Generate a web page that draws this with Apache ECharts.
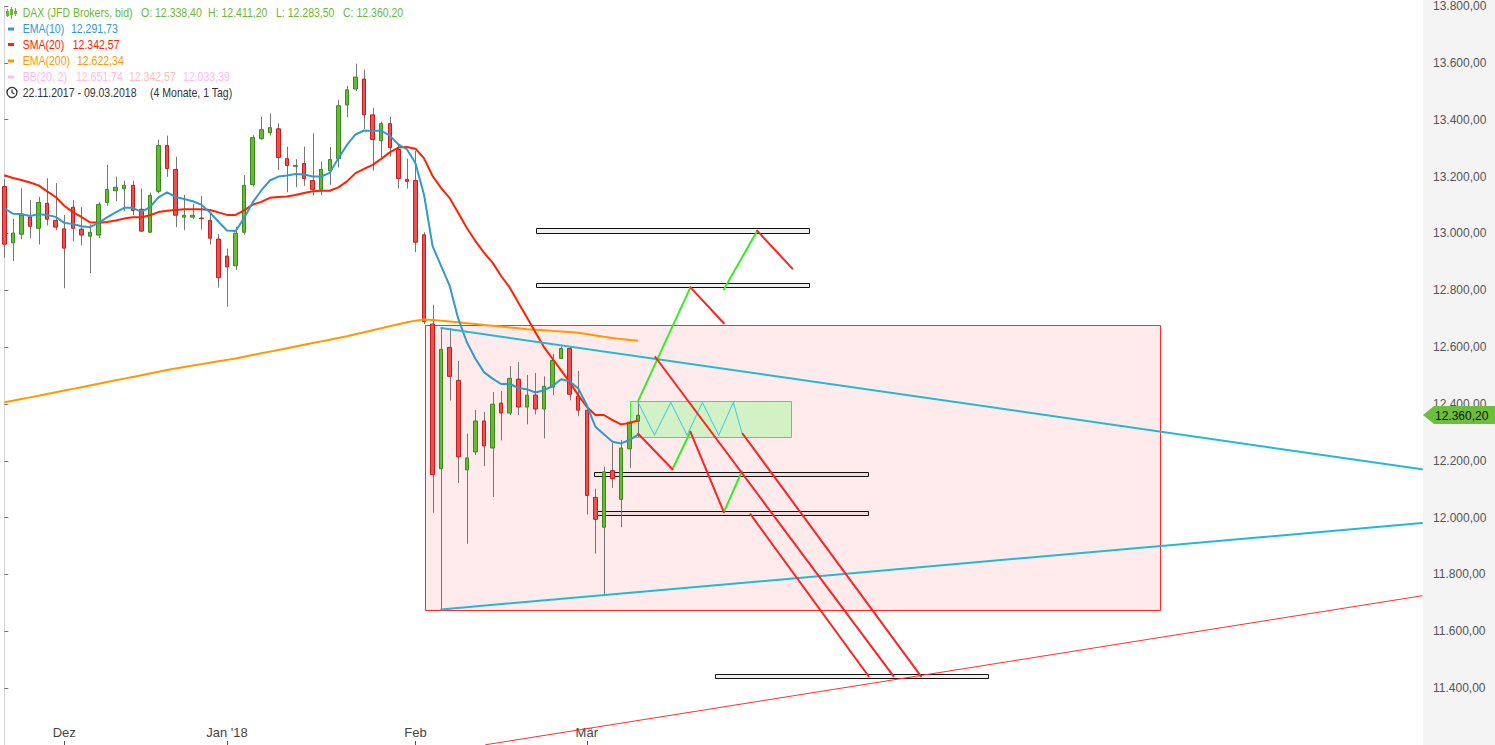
<!DOCTYPE html>
<html><head><meta charset="utf-8">
<script src="https://cdn.jsdelivr.net/npm/echarts@6/dist/echarts.min.js"></script>
<style>html,body{margin:0;padding:0;background:#fff;overflow:hidden}#c{width:1495px;height:745px}</style>
</head><body><div id="c"></div>
<script>
// ---------- DATA ----------
const dates = ['22.11.2017','23.11.2017','24.11.2017','27.11.2017','28.11.2017','29.11.2017','30.11.2017','01.12.2017','04.12.2017','05.12.2017','06.12.2017','07.12.2017','08.12.2017','11.12.2017','12.12.2017','13.12.2017','14.12.2017','15.12.2017','18.12.2017','19.12.2017','20.12.2017','21.12.2017','22.12.2017','27.12.2017','28.12.2017','29.12.2017','02.01.2018','03.01.2018','04.01.2018','05.01.2018','08.01.2018','09.01.2018','10.01.2018','11.01.2018','12.01.2018','15.01.2018','16.01.2018','17.01.2018','18.01.2018','19.01.2018','22.01.2018','23.01.2018','24.01.2018','25.01.2018','26.01.2018','29.01.2018','30.01.2018','31.01.2018','01.02.2018','02.02.2018','05.02.2018','06.02.2018','07.02.2018','08.02.2018','09.02.2018','12.02.2018','13.02.2018','14.02.2018','15.02.2018','16.02.2018','19.02.2018','20.02.2018','21.02.2018','22.02.2018','23.02.2018','26.02.2018','27.02.2018','28.02.2018','01.03.2018','02.03.2018','05.03.2018','06.03.2018','07.03.2018','08.03.2018','09.03.2018'];
const opens  = [13165,12967,12997,13058,13018,13106,13046,13016,13092,13015,12990,12994,13109,13150,13157,13169,13085,13004,13148,13309,13225,13057,13057,13054,13046,12980,12920,12886,13004,13172,13333,13354,13368,13263,13236,13246,13186,13155,13221,13263,13452,13508,13543,13417,13326,13386,13295,13190,13186,12995,12681,12172,12599,12483,12168,12231,12340,12245,12403,12368,12487,12389,12431,12382,12459,12560,12595,12427,12378,12071,11966,12165,12064,12242,12338.4];
const highs  = [13191,13051,13159,13118,13128,13194,13177,13065,13117,13092,13032,13110,13241,13200,13185,13186,13158,13144,13330,13344,13270,13136,13104,13131,13072,12998,12947,13023,13205,13345,13410,13422,13387,13305,13261,13305,13352,13253,13303,13470,13519,13597,13576,13442,13393,13410,13312,13263,13291,13004,12749,12667,12667,12551,12295,12379,12372,12442,12445,12533,12547,12502,12509,12497,12576,12602,12602,12516,12385,12102,12179,12263,12273,12345,12411.2];
const lows   = [12914,12903,12979,12984,12961,13028,13011,12807,12972,12958,12860,12984,13097,13113,13078,13064,13005,13002,13141,13199,13022,13011,13050,13013,12961,12809,12742,12872,12996,13165,13330,13344,13223,13145,13163,13167,13134,13134,13171,13232,13409,13501,13368,13221,13267,13270,13158,13158,12934,12681,12017,11677,12412,12122,11908,12220,12181,12073,12272,12361,12361,12328,12363,12279,12431,12558,12413,12357,12011,11873,11730,12104,11966,12175,12283.5];
const closes = [12962,13001,13065,13025,13109,13050,13022,12948,13018,12994,13004,13102,13155,13162,13169,13081,13008,13134,13309,13228,13064,13064,13064,13052,12983,12844,12882,13001,13169,13337,13365,13372,13267,13239,13239,13193,13155,13225,13260,13449,13505,13550,13417,13330,13386,13302,13193,13183,12969,12690,12151,12592,12497,12214,12210,12340,12252,12399,12368,12490,12389,12431,12382,12462,12553,12595,12434,12378,12078,11994,12161,12137,12245,12336,12360.2];
const ema10  = [13089,13069,13068,13061,13067,13065,13058,13037,13033,13025,13022,13037,13056,13074,13090,13090,13076,13092,13127,13144,13128,13121,13113,13101,13074,13041,13010,13008,13054,13109,13151,13186,13200,13204,13209,13207,13200,13200,13213,13264,13311,13348,13362,13360,13362,13344,13313,13296,13247,13136,12955,12885,12815,12699,12617,12559,12512,12489,12470,12471,12456,12452,12440,12448,12463,12487,12480,12454,12396,12320,12293,12267,12261,12273,12291.73];
const sma20  = [13205,13195,13188,13179,13169,13148,13128,13097,13075,13058,13039,13037,13040,13045,13052,13057,13057,13064,13075,13080,13082,13085,13085,13085,13082,13074,13065,13065,13081,13101,13111,13125,13128,13130,13135,13142,13148,13150,13150,13162,13183,13212,13227,13241,13262,13285,13302,13304,13298,13264,13202,13159,13124,13072,13019,12973,12932,12897,12850,12810,12757,12705,12652,12600,12559,12518,12477,12431,12390,12361,12361,12343,12328,12333,12342.57];
const ema200 = [12406,12411,12417,12423,12429,12435,12441,12447,12453,12459,12465,12471,12477,12483,12489,12495,12501,12507,12513,12519,12525,12530,12535,12540,12545,12550,12555,12560,12566,12572,12578,12584,12590,12596,12602,12608,12614,12620,12626,12632,12638,12645,12652,12659,12666,12673,12680,12687,12693,12697,12695,12693,12690,12687,12684,12681,12678,12675,12672,12669,12666,12663,12661,12659,12657,12655,12653,12650,12646,12641,12636,12632,12628,12625,12622.34];
const futureSlots = 91;
const monthNames = {'12':'Dez','01':"Jan '18",'02':'Feb','03':'Mär'};
const bbValues = [12651.74, 12342.57, 12033.39];
// annotations: [index, value] pairs on the bar axis
const zoneBox    = [[49.1, 12677, 134.9, 11673]];
const levelBoxes = [[62.05,13018,93.9,13001],[62.05,12826,93.9,12812],[68.9,12162,100.9,12148],[68.9,12022,100.9,12008],[83.0,11449,114.9,11435]];
const rangeBox   = [[73.05, 12411.2, 91.9, 12283.5]];
const cyanTrends = [[51.0,12667,165.5,12170],[51.0,11677,165.5,11981]];
const redTrend   = [[56.2,11201,165.5,11725]];
const zigzagPts  = [[74.0,12405],[75.9,12290],[77.8,12405],[79.7,12290],[81.5,12405],[83.4,12290],[85.1,12405],[86.2,12290]];
const greenSegs  = [[74,12411,80.1,12810],[84.0,12803,87.9,13009],[78.0,12170,80.1,12302],[84.0,12019,86.1,12163]];
const redSegs    = [[80.1,12810,84.0,12684],[87.9,13009,92.0,12876],[74,12295,78.0,12170],[80.1,12302,84.0,12019],[76.0,12565,103.8,11442],[86.2,12295,107.0,11442],[87.1,12012,100.9,11442]];

// ---------- HELPERS ----------
function de(v, d){ const s = v.toFixed(d==null?2:d); const p = s.split('.'); return p[0].replace(/\B(?=(\d{3})+(?!\d))/g,'.') + (p[1]?','+p[1]:''); }
const N = dates.length + futureSlots;
const xData = dates.concat(new Array(futureSlots).fill(''));
const monthStart = {};
dates.forEach((d,i)=>{ const m = d.slice(3,5); if(i>0 && dates[i-1].slice(3,5)!==m && monthNames[m]) monthStart[i]=monthNames[m]; });
const last = dates.length-1;
const FONT = '"Liberation Sans",Arial,sans-serif';

const bodies = opens.map((o,i)=>[o, closes[i], Math.min(o,closes[i]), Math.max(o,closes[i])]);
const wicks = opens.map((o,i)=>[i, lows[i], highs[i]]);
const zig = zigzagPts.slice(1).map((p,i)=>[zigzagPts[i][0],zigzagPts[i][1],p[0],p[1]]);

function rectSeries(name, data, style, z){
  return {type:'custom', name, xAxisIndex:1, yAxisIndex:0, z, silent:true, data,
    encode:{x:[0,2], y:[1,3]},
    renderItem:(params, api)=>{
      const a = api.coord([api.value(0), api.value(1)]);
      const b = api.coord([api.value(2), api.value(3)]);
      const x = Math.round(Math.min(a[0],b[0]))+0.5, y = Math.round(Math.min(a[1],b[1]))+0.5;
      return {type:'rect', shape:{x, y, width:Math.round(Math.abs(b[0]-a[0])), height:Math.round(Math.abs(b[1]-a[1]))}, style:Object.assign({}, style)};
    }};
}
function segSeries(name, data, stroke, width, z){
  return {type:'custom', name, xAxisIndex:1, yAxisIndex:0, z, silent:true, data,
    encode:{x:[0,2], y:[1,3]},
    renderItem:(params, api)=>{
      const a = api.coord([api.value(0), api.value(1)]);
      const b = api.coord([api.value(2), api.value(3)]);
      return {type:'line', shape:{x1:a[0], y1:a[1], x2:b[0], y2:b[1]}, style:{stroke, lineWidth:width, lineCap:'round'}};
    }};
}

// ---------- LEGEND GRAPHICS ----------
const rows = [13, 29, 44.5, 61, 77, 92.5];
const G = [];
G.push({type:'rect', left:1423, top:0, z:-10, shape:{width:72, height:745}, style:{fill:'#f4f4f4'}});
function txt(x, y, text, fill){ G.push({type:'text', x, y, scaleX:0.81, z:50, style:{text, fill, font:'13px '+FONT, verticalAlign:'middle', textVerticalAlign:'middle'}}); }
// icon row 1 (candles)
[[7,9,17],[11,7,19],[15,8,16]].forEach(c=>{
  G.push({type:'line', z:50, shape:{x1:c[0]+0.5,y1:c[1],x2:c[0]+0.5,y2:c[2]}, style:{stroke:'#6ab936', lineWidth:1}});
});
G.push({type:'rect', z:50, shape:{x:6,y:11,width:3,height:5}, style:{fill:'#6ab936'}});
G.push({type:'rect', z:50, shape:{x:10,y:9,width:3,height:6}, style:{fill:'#6ab936'}});
G.push({type:'rect', z:50, shape:{x:14,y:11,width:3,height:3}, style:{fill:'#6ab936'}});
txt(22.7, rows[0], 'DAX (JFD Brokers, bid)', '#6ab936');
txt(141, rows[0], 'O: ' + de(opens[last]), '#6ab936');
txt(208, rows[0], 'H: ' + de(highs[last]), '#6ab936');
txt(276, rows[0], 'L: ' + de(lows[last]), '#6ab936');
txt(343, rows[0], 'C: ' + de(closes[last]), '#6ab936');
const ind = [['EMA(10)', ema10[last], '#3399cc', 71],['SMA(20)', sma20[last], '#ff2200', 72.7],['EMA(200)', ema200[last], '#ff9900', 77]];
ind.forEach((r,k)=>{
  G.push({type:'rect', z:50, shape:{x:8,y:rows[k+1]-1.5,width:6,height:3}, style:{fill:r[2]}});
  txt(22.7, rows[k+1], r[0], r[2]); txt(r[3], rows[k+1], de(r[1]), r[2]);
});
G.push({type:'rect', z:50, shape:{x:8,y:rows[4]-1.5,width:6,height:3}, style:{fill:'#ffbbee'}});
txt(22.7, rows[4], 'BB(20, 2)', '#ffbbee');
txt(76, rows[4], de(bbValues[0]), '#ffbbee');
txt(129, rows[4], de(bbValues[1]), '#ffbcbc');
txt(183, rows[4], de(bbValues[2]), '#ffbbee');
G.push({type:'circle', z:50, shape:{cx:12, cy:rows[5], r:5}, style:{fill:'none', stroke:'#333', lineWidth:1.3}});
G.push({type:'polyline', z:50, shape:{points:[[12,rows[5]-3],[12,rows[5]],[14.5,rows[5]+1.5]]}, style:{fill:'none', stroke:'#333', lineWidth:1.2}});
txt(22.7, rows[5], dates[0] + ' - ' + dates[last], '#333');
txt(150, rows[5], '(4 Monate, 1 Tag)', '#333');

// ---------- OPTION ----------
const option = {
  animation:false,
  backgroundColor:'#ffffff',
  grid:{left:-1.3, top:2, width:1423.3, height:743.3, containLabel:false},
  graphic:{elements:G},
  xAxis:[
    {type:'category', data:xData, boundaryGap:true,
     axisLine:{show:false},
     axisTick:{show:true, inside:true, length:4, lineStyle:{color:'#555'}, interval:(i)=>monthStart[i]!==undefined, alignWithLabel:true},
     axisLabel:{show:true, inside:true, margin:6, color:'#444', fontSize:13, fontFamily:FONT,
       interval:(i)=>monthStart[i]!==undefined, formatter:(v,i)=>monthStart[i]||''},
     splitLine:{show:false}},
    {type:'value', min:-0.5, max:N-0.5, show:false}
  ],
  yAxis:[{type:'value', position:'right', min:11200, max:13800, interval:200, scale:true,
    axisLine:{show:true, lineStyle:{color:'#d8d8d8'}},
    axisTick:{show:true, length:4, lineStyle:{color:'#777'}},
    axisLabel:{show:true, margin:11, color:'#555', fontSize:12, fontFamily:FONT, showMinLabel:false, formatter:(v)=>de(v)},
    splitLine:{show:false}}],
  series:[
    rectSeries('zone', zoneBox, {fill:'rgba(255,60,60,0.1)', stroke:'#ff2a2a', lineWidth:1}, 1),
    rectSeries('levels', levelBoxes, {fill:'rgba(0,0,0,0.06)', stroke:'#111', lineWidth:1}, 1),
    rectSeries('range', rangeBox, {fill:'rgba(205,242,192,0.9)', stroke:'#33ee33', lineWidth:1}, 1),
    {type:'custom', name:'wicks', xAxisIndex:0, yAxisIndex:0, z:3, silent:true, data:wicks, encode:{x:0, y:[1,2]},
     renderItem:(params, api)=>{
       const a = api.coord([api.value(0), api.value(1)]);
       const b = api.coord([api.value(0), api.value(2)]);
       const x = Math.round(a[0])+0.5;
       return {type:'line', shape:{x1:x, y1:a[1], x2:x, y2:b[1]}, style:{stroke:'#777', lineWidth:1}};
     }},
    {type:'candlestick', name:'DAX', xAxisIndex:0, yAxisIndex:0, z:4, data:bodies, barWidth:4,
     itemStyle:{color:'#66bb33', color0:'#ef4f4f', borderColor:'#3a8a1f', borderColor0:'#c21f1f', borderColorDoji:'#c21f1f', borderWidth:1}},
    {type:'line', name:'EMA(200)', data:ema200, showSymbol:false, z:5, lineStyle:{color:'#ff9900', width:2}, itemStyle:{color:'#ff9900'}},
    {type:'line', name:'SMA(20)', data:sma20, showSymbol:false, z:6, lineStyle:{color:'#ff2200', width:2}, itemStyle:{color:'#ff2200'}},
    {type:'line', name:'EMA(10)', data:ema10, showSymbol:false, z:7, lineStyle:{color:'#3399cc', width:2}, itemStyle:{color:'#3399cc'}},
    segSeries('cyan', cyanTrends, '#22b8dc', 2, 8),
    segSeries('redtrend', redTrend, '#ff3030', 1, 8),
    segSeries('zigzag', zig, '#33ccee', 1, 8),
    segSeries('green', greenSegs, '#33ee22', 2, 9),
    segSeries('red', redSegs, '#ff2222', 2, 9),
    {type:'custom', name:'price', xAxisIndex:1, yAxisIndex:0, z:20, silent:true, clip:false,
     data:[[N-0.5, closes[last]]], encode:{x:0, y:1},
     renderItem:(params, api)=>{
       const p = api.coord([api.value(0), api.value(1)]);
       const x0 = Math.round(p[0]) + 1, y = Math.round(p[1]);
       return {type:'group', children:[
         {type:'polygon', shape:{points:[[x0,y],[x0+11,y-9],[1495,y-9],[1495,y+9],[x0+11,y+9]]}, style:{fill:'#6cbf3c'}},
         {type:'text', style:{text:de(api.value(1)), x:x0+12, y:y+0.5, fill:'#111', font:'12px '+FONT, verticalAlign:'middle', textVerticalAlign:'middle'}}
       ]};
     }}
  ]
};
const chart = echarts.init(document.getElementById('c'), null, {renderer:'svg', width:1495, height:745});
chart.setOption(option);
</script>
</body></html>
